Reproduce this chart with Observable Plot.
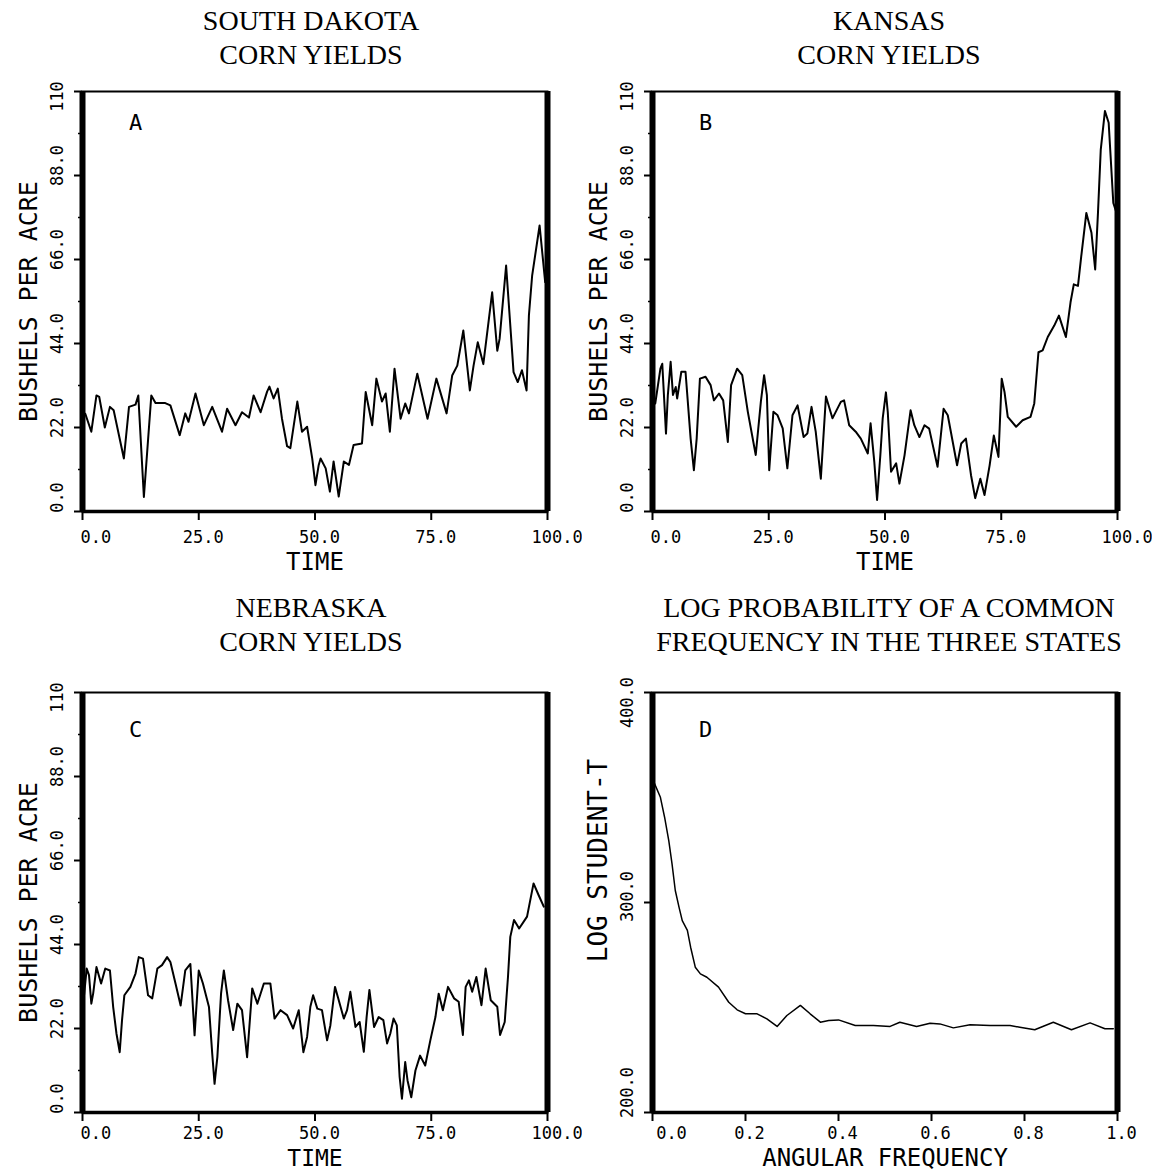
<!DOCTYPE html>
<html>
<head>
<meta charset="utf-8">
<script src="https://cdn.jsdelivr.net/npm/d3@7"></script>
<script src="https://cdn.jsdelivr.net/npm/@observablehq/plot@0.6"></script>
<style>
  html, body { margin: 0; padding: 0; background: #fff; }
  #page { position: relative; width: 1164px; height: 1173px; overflow: hidden; background: #fff; }
  .title { position: absolute; width: 600px; text-align: center; color: #000;
           font-family: "Liberation Serif", "DejaVu Serif", serif; font-size: 28px; line-height: 34px; }
  .panel { position: absolute; }
</style>
</head>
<body>
<div id="page"></div>
<script>
// ---- Panel A: South Dakota corn yields (bushels per acre) ----
const sdTime = [0.6,1.9,3.0,3.6,4.8,5.9,6.7,8.9,10.0,11.4,12.0,13.2,14.8,15.7,17.8,18.9,20.9,22.1,22.8,24.3,
  26.1,27.9,30.0,31.1,32.9,34.3,35.8,36.8,38.3,39.7,40.2,41.1,42.0,42.9,44.0,44.7,46.2,47.2,48.3,49.4,50.1,
  50.8,51.2,52.3,53.2,54.0,55.1,56.2,57.3,58.3,60.1,60.9,62.3,63.2,64.4,65.2,66.1,67.1,68.4,69.4,70.2,72.0,
  74.2,76.1,78.3,79.5,80.6,81.9,83.3,84.1,85.0,86.2,88.1,89.2,89.7,91.1,92.7,93.6,94.5,95.5,96.0,96.7,98.3,
  99.5,99.9];
const sdYield = [25.6,20.9,30.4,30.0,22.0,27.4,26.5,13.9,27.4,28.0,30.4,3.8,30.4,28.4,28.4,27.8,20.0,25.7,23.5,30.9,
  22.6,27.4,20.9,26.9,22.6,26.0,24.6,30.4,26.0,31.4,32.7,29.6,32.2,24.3,17.1,16.6,28.8,20.9,22.2,13.9,6.9,
  12.2,13.9,11.3,5.2,13.1,3.9,13.1,12.2,17.4,17.8,31.3,22.6,34.8,28.8,30.9,20.9,37.4,24.3,28.3,25.7,36.1,
  24.3,34.8,25.7,35.6,38.2,47.4,31.7,38.2,44.3,38.6,57.4,42.1,45.2,64.4,36.5,33.9,37.0,31.7,51.3,61.8,74.9,
  60.1,61.0];

// ---- Panel B: Kansas corn yields ----
const ksTime = [0.6,1.7,2.1,2.6,2.9,3.3,3.9,4.4,5.0,5.3,6.2,7.1,8.2,8.9,9.5,10.2,11.4,12.5,13.2,14.3,15.2,16.2,
  16.9,18.2,19.3,20.5,22.2,23.3,24.0,24.6,25.1,26.0,26.9,28.0,29.0,30.1,31.2,32.5,33.3,34.2,35.1,36.2,37.3,
  38.7,40.5,41.2,42.3,43.7,44.8,46.3,46.9,47.7,48.3,49.0,49.5,50.2,50.6,51.3,52.4,53.1,54.2,55.5,56.3,57.4,
  58.5,59.5,61.3,62.6,63.5,65.5,66.4,67.4,68.5,69.4,70.5,71.4,72.5,73.4,74.4,75.1,75.7,76.4,78.2,79.6,81.3,
  82.1,83.0,83.9,85.0,86.4,87.4,88.9,89.9,90.6,91.5,92.2,93.3,94.4,95.2,95.8,96.4,97.3,98.1,99.1,99.8];
const ksYield = [28.3,37.4,38.7,27.4,20.4,30.5,39.2,30.5,32.6,29.6,36.6,36.6,19.1,10.8,19.1,34.8,35.3,33.1,29.1,30.9,29.1,18.2,
  33.1,37.4,35.7,26.1,14.8,28.7,35.7,30.5,10.8,26.1,25.2,21.8,11.3,25.2,27.8,19.5,20.4,27.4,20.9,8.6,30.1,
  24.4,28.7,29.1,22.6,20.9,19.1,15.2,23.1,13.0,3.0,14.8,24.3,31.2,26.0,10.4,12.6,7.3,14.7,26.5,22.6,19.5,
  22.6,21.7,11.7,26.9,25.2,12.1,17.8,19.1,9.5,3.5,8.6,4.3,12.1,19.9,14.3,34.8,31.3,24.8,22.2,23.9,24.8,
  28.3,41.7,42.2,45.7,48.7,51.3,45.7,54.8,59.5,59.1,66.8,78.2,73.0,63.4,78.2,94.8,104.9,101.8,80.8,78.2];

// ---- Panel C: Nebraska corn yields ----
const neTime = [0.3,0.9,1.4,1.9,2.3,3.0,4.0,4.9,5.9,6.6,7.3,8.0,8.5,9.0,10.3,11.4,12.1,13.0,14.1,15.0,16.1,17.1,
  18.2,18.9,20.0,21.1,22.1,23.2,24.1,25.0,25.9,27.2,27.9,28.4,29.0,29.8,30.4,31.3,32.4,33.3,34.3,35.4,36.5,
  37.6,39.0,40.4,41.3,42.6,44.0,45.3,46.5,47.5,48.3,49.0,49.6,50.5,51.5,52.6,53.3,54.3,54.9,56.2,56.9,57.6,
  58.7,59.6,60.5,61.1,61.7,62.7,63.7,64.7,65.5,66.2,66.9,67.6,68.2,68.7,69.4,69.9,70.7,71.6,72.6,73.7,74.8,
  75.9,76.6,77.5,78.6,79.9,80.9,81.8,82.4,83.1,83.8,84.7,85.8,86.7,87.8,89.2,89.8,90.8,91.5,92.0,92.8,93.9,
  95.6,97.0,98.1,99.2];
const neYield = [30.3,37.7,36.0,28.5,31.2,38.1,33.8,37.7,37.2,27.6,20.7,15.8,24.2,30.7,32.9,36.4,40.7,40.3,30.7,29.9,37.7,38.6,
  40.7,39.4,33.8,28.0,37.2,38.9,20.2,37.2,33.8,27.6,15.4,7.5,14.5,31.2,37.2,29.4,21.6,28.5,26.8,14.5,32.5,
  28.5,33.8,33.8,24.6,26.8,25.5,22.0,26.8,15.8,19.8,27.7,30.7,27.2,26.8,18.9,22.8,32.9,30.3,24.6,26.8,31.6,
  22.4,23.7,15.9,25.0,32.1,22.4,25.0,24.2,18.1,20.7,24.6,22.8,9.3,3.6,13.2,8.4,4.0,11.0,14.9,12.3,18.9,
  25.0,31.1,26.8,32.9,29.9,29.0,20.3,32.9,34.6,31.6,35.5,28.1,37.7,29.4,27.7,20.3,23.7,35.5,46.0,50.4,48.2,
  51.3,60.0,56.9,53.9];

// ---- Panel D: log Student-t against angular frequency ----
const freq = [0.003,0.017,0.026,0.035,0.042,0.049,0.057,0.064,0.075,0.082,0.092,0.103,0.117,0.142,0.164,0.182,
  0.200,0.225,0.246,0.268,0.289,0.318,0.339,0.361,0.379,0.400,0.436,0.475,0.511,0.532,0.568,0.597,0.618,
  0.647,0.683,0.726,0.769,0.790,0.822,0.862,0.901,0.941,0.973,0.991];
const logT = [357.3,350.1,340.6,329.5,318.4,305.7,297.8,291.4,286.7,278.7,269.2,266.0,264.4,259.7,252.5,248.9,
  247.0,247.0,244.6,241.0,246.2,251.0,247.0,243.0,243.8,244.1,241.4,241.4,241.0,243.0,241.0,242.5,242.2,
  240.3,241.8,241.4,241.4,240.6,239.4,243.0,239.4,242.7,239.9,239.9];

// ---- Axis ticks and headings ----
const timeTicks = [0, 25, 50, 75, 100];
const yieldTicks = [0, 22, 44, 66, 88, 110];
const yieldMinorTicks = [11, 33, 55, 77, 99];
const freqTicks = [0, 0.2, 0.4, 0.6, 0.8, 1.0];
const logTTicks = [200, 300, 400];
const panelTitles = [
  ["SOUTH DAKOTA", "CORN YIELDS"],
  ["KANSAS", "CORN YIELDS"],
  ["NEBRASKA", "CORN YIELDS"],
  ["LOG PROBABILITY OF A COMMON", "FREQUENCY IN THE THREE STATES"]
];
const panelLetters = ["A", "B", "C", "D"];

const FONT = "'DejaVu Sans Mono', 'Liberation Mono', monospace";
const page = document.getElementById("page");

function addTitle(lines, cx, top) {
  const div = document.createElement("div");
  div.className = "title";
  div.style.left = (cx - 300) + "px";
  div.style.top = top + "px";
  for (const line of lines) {
    const row = document.createElement("div");
    row.textContent = line;
    div.appendChild(row);
  }
  page.appendChild(div);
}

function addPanel(svg, left, top) {
  const wrap = document.createElement("div");
  wrap.className = "panel";
  wrap.style.left = left + "px";
  wrap.style.top = top + "px";
  wrap.appendChild(svg);
  page.appendChild(wrap);
}

// Heavy plotter-style box: thin top, thicker base, very thick sides.
function frameMarks(xDomain, yBase) {
  return [
    Plot.frame({stroke: "#000", strokeWidth: 2}),
    Plot.ruleY([yBase], {stroke: "#000", strokeWidth: 3.5}),
    Plot.ruleX(xDomain, {stroke: "#000", strokeWidth: 6})
  ];
}

const blank = () => "";
const txt = {fill: "#000", fontFamily: FONT, lineAnchor: "middle"};

function seriesPanel(time, values, letter, opts) {
  const {height, marginBottom, letterDy, tickDy, titleDy, titleSize} = opts;
  const pts = time.map((t, i) => ({t, v: values[i]}));
  return Plot.plot({
    width: 582, height,
    marginLeft: 82, marginRight: 35, marginTop: 21, marginBottom,
    x: {domain: [0, 100]},
    y: {domain: [0, 110]},
    style: {background: "none", color: "#000", fontFamily: FONT},
    marks: [
      Plot.axisX({ticks: timeTicks, tickSize: 9, tickFormat: blank, strokeWidth: 2, label: null}),
      Plot.axisY({ticks: yieldTicks, tickSize: 8, tickFormat: blank, strokeWidth: 2, label: null}),
      Plot.axisY({ticks: yieldMinorTicks, tickSize: 4, tickFormat: blank, strokeWidth: 1.5, label: null}),
      // time tick labels
      Plot.text(timeTicks.slice(0, 1), {...txt, x: d => d, frameAnchor: "bottom", dy: tickDy, dx: -2,
        textAnchor: "start", text: d => d.toFixed(1), fontSize: 17}),
      Plot.text(timeTicks.slice(1), {...txt, x: d => d, frameAnchor: "bottom", dy: tickDy, dx: -16,
        textAnchor: "start", text: d => d.toFixed(1), fontSize: 17}),
      // yield tick labels, turned on their side
      Plot.text(yieldTicks.slice(0, 1), {...txt, y: d => d, frameAnchor: "left", dx: -25, dy: -14,
        rotate: -90, textAnchor: "middle", text: d => d.toFixed(1), fontSize: 17}),
      Plot.text(yieldTicks.slice(1, 5), {...txt, y: d => d, frameAnchor: "left", dx: -25, dy: -10,
        rotate: -90, textAnchor: "middle", text: d => d.toFixed(1), fontSize: 17}),
      Plot.text(yieldTicks.slice(5), {...txt, y: d => d, frameAnchor: "left", dx: -25, dy: 5,
        rotate: -90, textAnchor: "middle", text: d => String(d), fontSize: 17}),
      // axis titles and panel letter
      Plot.text(["TIME"], {...txt, frameAnchor: "bottom", dy: titleDy, textAnchor: "middle", text: d => d,
        fontSize: titleSize}),
      Plot.text(["BUSHELS PER ACRE"], {...txt, frameAnchor: "left", dx: -54, rotate: -90,
        textAnchor: "middle", text: d => d, fontSize: 25}),
      Plot.text([letter], {...txt, frameAnchor: "top-left", dx: 53, dy: letterDy, textAnchor: "middle",
        text: d => d, fontSize: 22}),
      Plot.line(pts, {x: "t", y: "v", stroke: "#000", strokeWidth: 2}),
      ...frameMarks([0, 100], 0)
    ]
  });
}

function spectrumPanel(letter, opts) {
  const {height, marginBottom, letterDy, tickDy, titleDy, titleSize} = opts;
  const pts = freq.map((f, i) => ({f, v: logT[i]}));
  return Plot.plot({
    width: 582, height,
    marginLeft: 82, marginRight: 35, marginTop: 21, marginBottom,
    x: {domain: [0, 1]},
    y: {domain: [200, 400]},
    style: {background: "none", color: "#000", fontFamily: FONT},
    marks: [
      Plot.axisX({ticks: freqTicks, tickSize: 9, tickFormat: blank, strokeWidth: 2, label: null}),
      Plot.axisY({ticks: logTTicks, tickSize: 8, tickFormat: blank, strokeWidth: 2, label: null}),
      Plot.text(freqTicks.slice(0, 1), {...txt, x: d => d, frameAnchor: "bottom", dy: tickDy, dx: 19,
        textAnchor: "middle", text: d => d.toFixed(1), fontSize: 17}),
      Plot.text(freqTicks.slice(1), {...txt, x: d => d, frameAnchor: "bottom", dy: tickDy, dx: 4,
        textAnchor: "middle", text: d => d.toFixed(1), fontSize: 17}),
      Plot.text(logTTicks.slice(0, 1), {...txt, y: d => d, frameAnchor: "left", dx: -25, dy: -20,
        rotate: -90, textAnchor: "middle", text: d => d.toFixed(1), fontSize: 17}),
      Plot.text(logTTicks.slice(1, 2), {...txt, y: d => d, frameAnchor: "left", dx: -25, dy: -6,
        rotate: -90, textAnchor: "middle", text: d => d.toFixed(1), fontSize: 17}),
      Plot.text(logTTicks.slice(2), {...txt, y: d => d, frameAnchor: "left", dx: -25, dy: 10,
        rotate: -90, textAnchor: "middle", text: d => d.toFixed(1), fontSize: 17}),
      Plot.text(["ANGULAR FREQUENCY"], {...txt, frameAnchor: "bottom", dy: titleDy, textAnchor: "middle",
        text: d => d, fontSize: titleSize}),
      Plot.text(["LOG STUDENT-T"], {...txt, frameAnchor: "left", dx: -54, dy: -42, rotate: -90,
        textAnchor: "middle", text: d => d, fontSize: 26}),
      Plot.text([letter], {...txt, frameAnchor: "top-left", dx: 53, dy: letterDy, textAnchor: "middle",
        text: d => d, fontSize: 22}),
      Plot.line(pts, {x: "f", y: "v", stroke: "#000", strokeWidth: 1.5}),
      ...frameMarks([0, 1], 200)
    ]
  });
}

// Titles sit above each panel's box.
addTitle(panelTitles[0], 311, 4);
addTitle(panelTitles[1], 889, 4);
addTitle(panelTitles[2], 311, 591);
addTitle(panelTitles[3], 889, 591);

const topRow = {height: 510, marginBottom: 69, letterDy: 31, tickDy: 26, titleDy: 51, titleSize: 24};
const bottomRow = {height: 502, marginBottom: 61, letterDy: 37, tickDy: 21, titleDy: 46, titleSize: 23};

addPanel(seriesPanel(sdTime, sdYield, panelLetters[0], topRow), 0, 70);
addPanel(seriesPanel(ksTime, ksYield, panelLetters[1], topRow), 570, 70);
addPanel(seriesPanel(neTime, neYield, panelLetters[2], bottomRow), 0, 671);
addPanel(spectrumPanel(panelLetters[3], {...bottomRow, titleSize: 24}), 570, 671);
</script>
</body>
</html>
